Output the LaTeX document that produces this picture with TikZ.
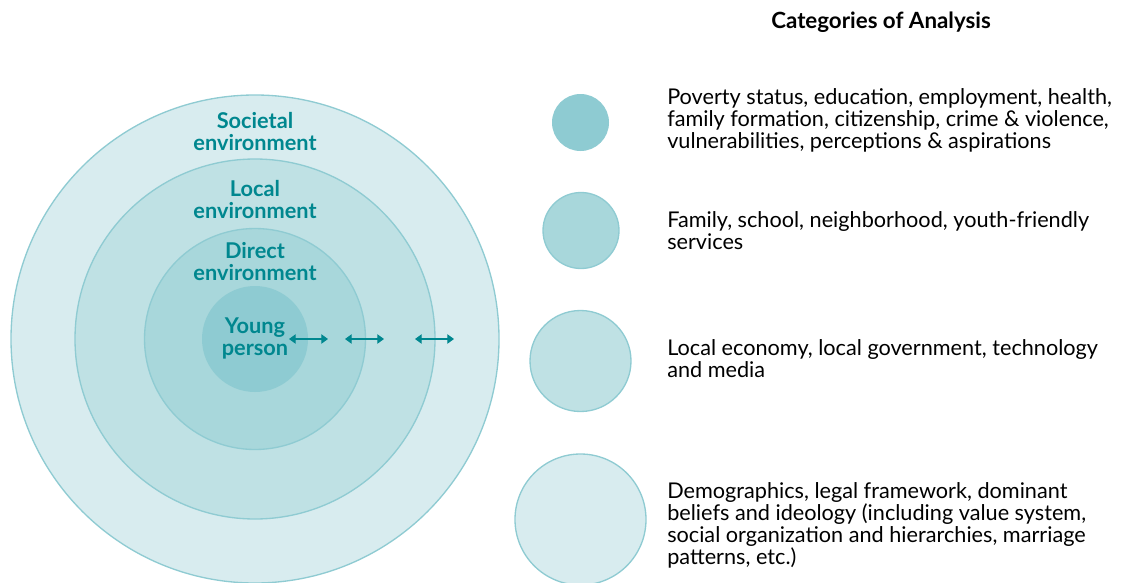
\documentclass[tikz,border=0pt]{standalone}
\usepackage{fontspec}
\setmainfont{Lato}
\usetikzlibrary{arrows.meta}

\definecolor{tealtext}{HTML}{00878F}
\definecolor{ringline}{HTML}{8FCBD2}
\definecolor{youngfill}{HTML}{8ECBD2}
\definecolor{directfill}{HTML}{A8D7DB}
\definecolor{localfill}{HTML}{BFE1E4}
\definecolor{societalfill}{HTML}{D8ECEF}

\tikzset{
  ring/.style={circle,inner sep=0pt,draw=ringline,line width=1pt},
  ringlabel/.style={align=center,text=tealtext,font=\fontsize{16.3}{16.5}\selectfont\bfseries},
  category/.style={anchor=west,align=left,inner sep=0pt,font=\fontsize{16.25}{16.5}\selectfont},
  twoway/.style={{Triangle[length=5pt,width=7pt]}-{Triangle[length=5pt,width=7pt]},draw=tealtext,line width=0.9pt}
}

\begin{document}
\begin{tikzpicture}[x=0.75pt,y=-0.75pt]
\useasboundingbox (0,0) rectangle (1124,582);

% nested environments
\node[ring,fill=societalfill,minimum size=366pt] (societal) at (255,339) {};
\node[ring,fill=localfill,minimum size=270pt] (local) at (255,339) {};
\node[ring,fill=directfill,minimum size=165.75pt] (direct) at (255,339) {};
\node[circle,inner sep=0pt,fill=youngfill,minimum size=79.5pt] (young) at (255,339) {};

\node[ringlabel] (societallabel) at (255,132) {Societal\\environment};
\node[ringlabel] (locallabel) at (255,200) {Local\\environment};
\node[ringlabel] (directlabel) at (255,262) {Direct\\environment};
\node[ringlabel] (younglabel) at (255,338) {Young\\person};

\coordinate (a1l) at (289,339);
\coordinate (a1r) at (328,339);
\coordinate (a2l) at (345,339);
\coordinate (a2r) at (384,339);
\coordinate (a3l) at (415,339);
\coordinate (a3r) at (454,339);
\draw[twoway] (a1l) -- (a1r);
\draw[twoway] (a2l) -- (a2r);
\draw[twoway] (a3l) -- (a3r);

% categories
\node[font=\fontsize{16.75}{18}\selectfont\bfseries] (title) at (881,22) {Categories of Analysis};

\node[circle,inner sep=0pt,fill=youngfill,minimum size=42.75pt] (dot1) at (580.5,122.5) {};
\node[ring,fill=directfill,minimum size=57pt] (dot2) at (581,230.5) {};
\node[ring,fill=localfill,minimum size=75.75pt] (dot3) at (580.5,361) {};
\node[ring,fill=societalfill,minimum size=98.25pt] (dot4) at (580.5,519.5) {};

\node[category] (cat1) at (667,120) {Poverty status, education, employment, health,\\family formation, citizenship, crime \& violence,\\vulnerabilities, perceptions \& aspirations};
\node[category] (cat2) at (667,231) {Family, school, neighborhood, youth-friendly\\services};
\node[category] (cat3) at (667,359) {Local economy, local government, technology\\and media};
\node[category] (cat4) at (667,525) {Demographics, legal framework, dominant\\beliefs and ideology (including value system,\\social organization and hierarchies, marriage\\patterns, etc.)};
\end{tikzpicture}
\end{document}
